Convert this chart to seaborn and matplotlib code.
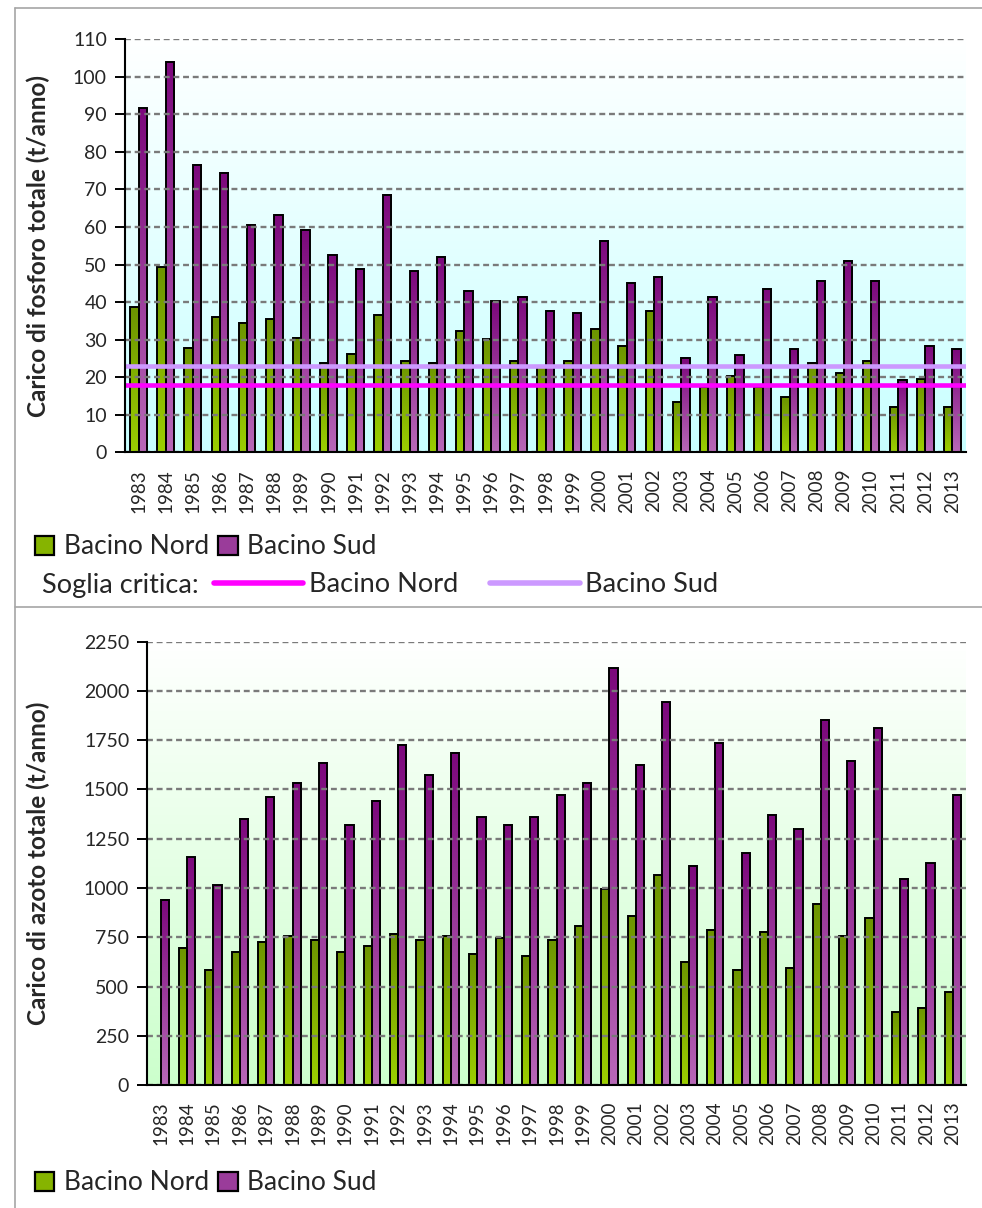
import numpy as np
import pandas as pd
import seaborn as sns
from matplotlib import pyplot as plt
from matplotlib.lines import Line2D
from matplotlib.patches import Patch
from matplotlib.ticker import FixedLocator
from matplotlib.colors import to_rgb

anni = ["1983", "1984", "1985", "1986", "1987", "1988", "1989", "1990", "1991", "1992",
        "1993", "1994", "1995", "1996", "1997", "1998", "1999", "2000", "2001", "2002",
        "2003", "2004", "2005", "2006", "2007", "2008", "2009", "2010", "2011", "2012", "2013"]
bacini = ["Bacino Nord", "Bacino Sud"]

fosforo_nord = [38.6, 49.3, 27.9, 35.9, 34.4, 35.4, 30.5, 23.9, 26.3, 36.5, 24.2, 23.9, 32.2, 30.1,
                24.2, 23.0, 24.2, 32.7, 28.4, 37.6, 13.4, 17.5, 20.4, 17.5, 14.6, 23.9, 21.0, 24.2,
                12.0, 19.4, 12.0]
fosforo_sud = [91.6, 103.9, 76.6, 74.5, 60.5, 63.2, 59.1, 52.6, 48.8, 68.6, 48.2, 52.0, 42.9, 40.2,
               41.4, 37.6, 37.0, 56.3, 45.1, 46.7, 25.2, 41.4, 25.8, 43.5, 27.4, 45.6, 50.9, 45.6,
               19.3, 28.4, 27.4]
azoto_nord = [np.nan, 696, 584, 675, 726, 758, 736, 675, 706, 769, 736, 758, 665, 748, 655, 736,
              809, 994, 860, 1064, 625, 789, 584, 779, 594, 921, 758, 850, 369, 391, 472]
azoto_sud = [941, 1157, 1013, 1350, 1464, 1535, 1636, 1320, 1442, 1728, 1575, 1686, 1360, 1320,
             1360, 1474, 1535, 2116, 1626, 1943, 1114, 1738, 1177, 1372, 1299, 1852, 1646, 1811,
             1047, 1125, 1474]

soglia_nord = 17.8
soglia_sud = 23.1

# colours
verde_top, verde_bot = "#6c9400", "#9ccf00"
viola_top, viola_bot = "#7c087c", "#b868b8"
FONT = ["Lato", "DejaVu Sans"]

sns.set_theme(style="white")
plt.rcParams["font.family"] = FONT


def long_df(nord, sud):
    return pd.DataFrame({
        "anno": anni * 2,
        "bacino": [bacini[0]] * len(anni) + [bacini[1]] * len(anni),
        "carico": list(nord) + list(sud),
    })


def vgrad(c_top, c_bot, n=256):
    t = np.linspace(0, 1, n)[:, None]
    a, b = np.array(to_rgb(c_top)), np.array(to_rgb(c_bot))
    return (a + (b - a) * t).reshape(n, 1, 3)


def draw(ax, df, ymax, step, bg_bottom, ylabel):
    sns.barplot(data=df, x="anno", y="carico", hue="bacino", hue_order=bacini,
                palette=[verde_bot, viola_bot], saturation=1, width=0.62, errorbar=None,
                edgecolor="black", linewidth=1.4, legend=False, ax=ax)
    # background gradient
    ax.imshow(vgrad("#ffffff", bg_bottom), extent=[0, 1, 0, 1], transform=ax.transAxes,
              aspect="auto", zorder=0, interpolation="bilinear")
    # gradient fills on bars (left bar of each pair = Nord)
    for p in list(ax.patches):
        x0, w, h = p.get_x(), p.get_width(), p.get_height()
        if not np.isfinite(h) or h <= 0:
            continue
        centre = x0 + w / 2
        is_nord = centre < round(centre)
        top, bot = (verde_top, verde_bot) if is_nord else (viola_top, viola_bot)
        ax.imshow(vgrad(top, bot), extent=[x0, x0 + w, 0, h], aspect="auto",
                  zorder=1.5, interpolation="bilinear")
        p.set_facecolor("none")
        p.set_zorder(2)
    ax.set_xlim(-0.5, len(anni) - 0.5)
    ax.set_ylim(0, ymax)
    ax.set_yticks(np.arange(0, ymax + 1, step))
    ax.yaxis.grid(True, color="#7a7a7a", linestyle=(0, (2.5, 1.6)), linewidth=1.7)
    ax.set_axisbelow(False)
    for gl in ax.get_ygridlines():
        gl.set_zorder(1)
    ax.xaxis.set_minor_locator(FixedLocator(np.arange(-0.5, len(anni), 1.0)))
    ax.tick_params(axis="x", which="major", length=0, labelrotation=90, labelsize=13.5, pad=12)
    ax.tick_params(axis="x", which="minor", length=7, width=1.4, color="black", direction="out")
    ax.tick_params(axis="y", length=7, width=1.4, color="black", direction="out",
                   labelsize=14, left=True, pad=6)
    for s in ["top", "right"]:
        ax.spines[s].set_visible(False)
    for s in ["left", "bottom"]:
        ax.spines[s].set_color("black")
        ax.spines[s].set_linewidth(1.5)
        ax.spines[s].set_zorder(4)
    ax.set_xlabel("")
    ax.set_ylabel(ylabel, fontsize=17.5, fontweight="bold")


fig = plt.figure(figsize=(9.82, 12.08), dpi=100)
ax1 = fig.add_axes([0.1273, 0.6256, 0.8564, 0.3419])
ax2 = fig.add_axes([0.1500, 0.1018, 0.8337, 0.3670])

draw(ax1, long_df(fosforo_nord, fosforo_sud), 110, 10, "#c8ffff",
     "Carico di fosforo totale (t/anno)")
ax1.axhline(soglia_sud, color="#cc99ff", linewidth=3.3, zorder=3)
ax1.axhline(soglia_nord, color="#ff00ff", linewidth=3.3, zorder=3)

draw(ax2, long_df(azoto_nord, azoto_sud), 2250, 250, "#ccffcc",
     "Carico di azoto totale (t/anno)")
ax1.yaxis.set_label_coords((50 - 125) / 841, 0.5)
ax2.yaxis.set_label_coords((50 - 147) / 819, 0.5)

# legends
bar_handles = [Patch(facecolor="#86b400", edgecolor="black", linewidth=1.6),
               Patch(facecolor="#9a3c9a", edgecolor="black", linewidth=1.6)]
for ypix in (547, 1183):
    fig.legend(bar_handles, bacini, loc="center left",
               bbox_to_anchor=(24 / 982, 1 - ypix / 1208), ncol=2, frameon=False,
               fontsize=19, handlelength=0.75, handleheight=0.75, handletextpad=0.35,
               columnspacing=0.35, borderaxespad=0)

fig.text(42 / 982, 1 - 585 / 1208, "Soglia critica:", fontsize=19.5, va="center", ha="left")
line_handles = [Line2D([], [], color="#ff00ff", linewidth=4),
                Line2D([], [], color="#cc99ff", linewidth=4)]
fig.legend(line_handles, bacini, loc="center left",
           bbox_to_anchor=(203 / 982, 1 - 585 / 1208), ncol=2, frameon=False,
           fontsize=19.5, handlelength=3.3, handletextpad=0.2, columnspacing=1.2,
           borderaxespad=0)

# outer frame lines
frame = "#a6a6a6"
fig.add_artist(Line2D([15 / 982, 15 / 982], [0, 1 - 8 / 1208], color=frame, linewidth=1.2))
fig.add_artist(Line2D([15 / 982, 1], [1 - 8 / 1208, 1 - 8 / 1208], color=frame, linewidth=1.2))
fig.add_artist(Line2D([15 / 982, 1], [1 - 607 / 1208, 1 - 607 / 1208], color=frame, linewidth=1.2))

fig.savefig("out.png", dpi=100, facecolor="white")
